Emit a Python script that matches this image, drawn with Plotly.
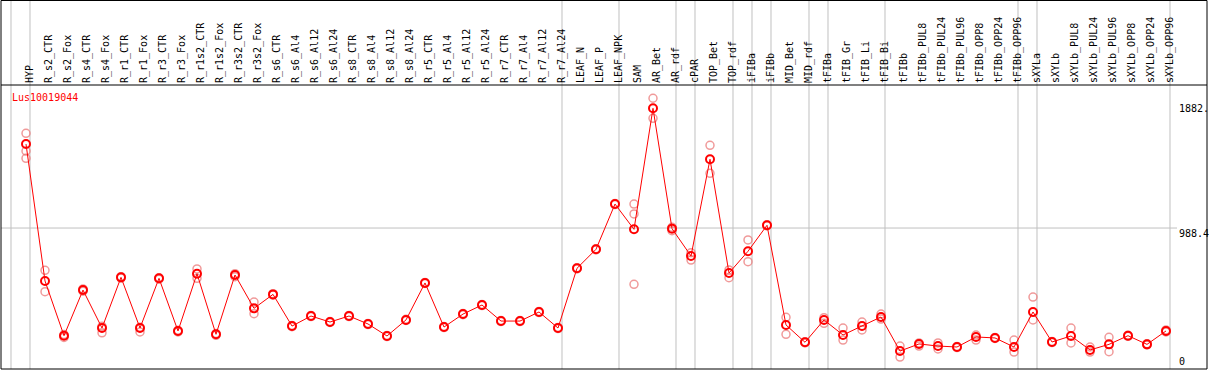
import plotly.graph_objects as go

categories = ["HYP", "R_s2_CTR", "R_s2_Fox", "R_s4_CTR", "R_s4_Fox", "R_r1_CTR", "R_r1_Fox",
              "R_r3_CTR", "R_r3_Fox", "R_r1s2_CTR", "R_r1s2_Fox", "R_r3s2_CTR", "R_r3s2_Fox",
              "R_s6_CTR", "R_s6_Al4", "R_s6_Al12", "R_s6_Al24", "R_s8_CTR", "R_s8_Al4",
              "R_s8_Al12", "R_s8_Al24", "R_r5_CTR", "R_r5_Al4", "R_r5_Al12", "R_r5_Al24",
              "R_r7_CTR", "R_r7_Al4", "R_r7_Al12", "R_r7_Al24", "LEAF_N", "LEAF_P", "LEAF_NPK",
              "SAM", "AR_Bet", "AR_rdf", "cPAR", "TOP_Bet", "TOP_rdf", "iFIBa", "iFIBb",
              "MID_Bet", "MID_rdf", "tFIBa", "tFIB_Gr", "tFIB_Li", "tFIB_Bi", "tFIBb",
              "tFIBb_PUL8", "tFIBb_PUL24", "tFIBb_PUL96", "tFIBb_OPP8", "tFIBb_OPP24",
              "tFIBb_OPP96", "sXYLa", "sXYLb", "sXYLb_PUL8", "sXYLb_PUL24", "sXYLb_PUL96",
              "sXYLb_OPP8", "sXYLb_OPP24", "sXYLb_OPP96"]

means = [1590, 609, 217, 544, 272, 635, 272, 628, 251, 661, 227, 652, 413,
         513, 286, 358, 315, 358, 301, 215, 330, 595, 279, 372, 437,
         322, 322, 387, 272, 700, 836, 1160,
         979, 1846, 984, 788, 1481, 666, 822, 1008,
         294, 170, 330, 222, 287, 351, 107,
         158, 143, 136, 208, 201, 136,
         387, 172, 215, 115, 155, 217, 155, 251]

replicates = [[1667, 1540, 1488], [685, 532], [225, 205], [552, 536], [284, 238], [640, 630],
              [277, 244], [632, 622], [256, 244], [695, 628], [232, 220], [661, 640], [458, 375],
              [518, 508], [290, 282], [362, 354], [318, 312], [362, 354], [305, 297],
              [219, 211], [334, 326], [599, 591], [283, 275], [376, 368], [441, 433],
              [326, 318], [326, 318], [391, 383], [276, 268], [704, 696], [840, 832], [1164, 1156],
              [1160, 1089, 585], [1918, 1774], [994, 969], [812, 759], [1581, 1380], [688, 633],
              [903, 747], [1012, 1004],
              [349, 227], [174, 166], [346, 306], [272, 186], [315, 258], [372, 336], [143, 64],
              [165, 143], [165, 122], [140, 132], [222, 186], [205, 197], [186, 100],
              [494, 330], [176, 168], [272, 165], [100, 136], [206, 102], [221, 213],
              [159, 151], [258, 244]]

# last category index of each group (-1 = before the first)
group_ends = [-1, 0, 28, 31, 34, 35, 37, 38, 39, 41, 42, 45, 52, 53, 60]

tick_vals = [0, 988.4, 1882.3]
tick_text = ["0", "988.4", "1882."]
title = "Lus10019044"

W, H = 1209, 370
ML, MR, MT, MB = 1, 2, 85, 1
plot_w = W - ML - MR
plot_h = H - MT - MB

idx = list(range(len(categories)))
rep_x = [i for i, r in enumerate(replicates) for _ in r]
rep_y = [v for r in replicates for v in r]

mono = "DejaVu Sans Mono"

fig = go.Figure()
fig.add_trace(go.Scatter(
    x=rep_x, y=rep_y, mode="markers",
    marker=dict(symbol="circle-open", size=8, color="rgba(235,120,120,0.75)",
                line=dict(width=1.5)),
    hoverinfo="skip", showlegend=False))
fig.add_trace(go.Scatter(
    x=idx, y=means, mode="lines+markers",
    line=dict(color="#ff0000", width=1),
    marker=dict(symbol="circle-open", size=8, color="#ff0000", line=dict(width=2)),
    showlegend=False))

shapes = []
for g in group_ends:
    shapes.append(dict(type="line", xref="x", yref="paper", x0=g + 0.21, x1=g + 0.21,
                       y0=0, y1=1 + MT / plot_h, line=dict(color="#c0c0c0", width=1),
                       layer="below"))
shapes.append(dict(type="line", xref="paper", yref="y", x0=0, x1=(1177 - ML) / plot_w,
                   y0=tick_vals[1], y1=tick_vals[1], line=dict(color="#c0c0c0", width=1),
                   layer="below"))
# frame
shapes.append(dict(type="rect", xref="paper", yref="paper", x0=0, x1=1, y0=0,
                   y1=1 + (MT - 0.5) / plot_h, line=dict(color="black", width=1)))
shapes.append(dict(type="line", xref="paper", yref="paper", x0=0, x1=1, y0=1, y1=1,
                   line=dict(color="black", width=1)))

annotations = [dict(text=title, xref="paper", yref="paper", x=(10 - ML) / plot_w,
                    y=(H - MB - 97.5) / plot_h, xanchor="left", yanchor="middle",
                    showarrow=False, font=dict(family=mono, size=10, color="#ff0000"))]
for v, t in zip(tick_vals, tick_text):
    annotations.append(dict(text=t, xref="paper", yref="y", x=(1177 - ML) / plot_w, y=v,
                            xanchor="left", yanchor="bottom" if v == 0 else "top",
                            yshift=-3 if v == 0 else 2,
                            showarrow=False, font=dict(family=mono, size=10, color="black")))

fig.update_layout(
    width=W, height=H,
    margin=dict(l=ML, r=MR, t=MT, b=MB, pad=0),
    paper_bgcolor="white", plot_bgcolor="white",
    xaxis=dict(range=[-25 / 19, (plot_w - 25) / 19], side="top", tickmode="array",
               tickvals=idx, ticktext=categories, tickangle=-90, ticks="",
               ticklabelshift=4, ticklabelstandoff=1,
               showgrid=False, zeroline=False, showline=False,
               tickfont=dict(family=mono, size=10, color="black")),
    yaxis=dict(range=[-3 / 0.1396, 281 / 0.1396], showgrid=False, zeroline=False,
               showticklabels=False, showline=False),
    shapes=shapes, annotations=annotations,
)

fig.write_html("out.html", config={"displayModeBar": False},
               post_script="document.body.style.margin='0';document.body.style.padding='0';")
